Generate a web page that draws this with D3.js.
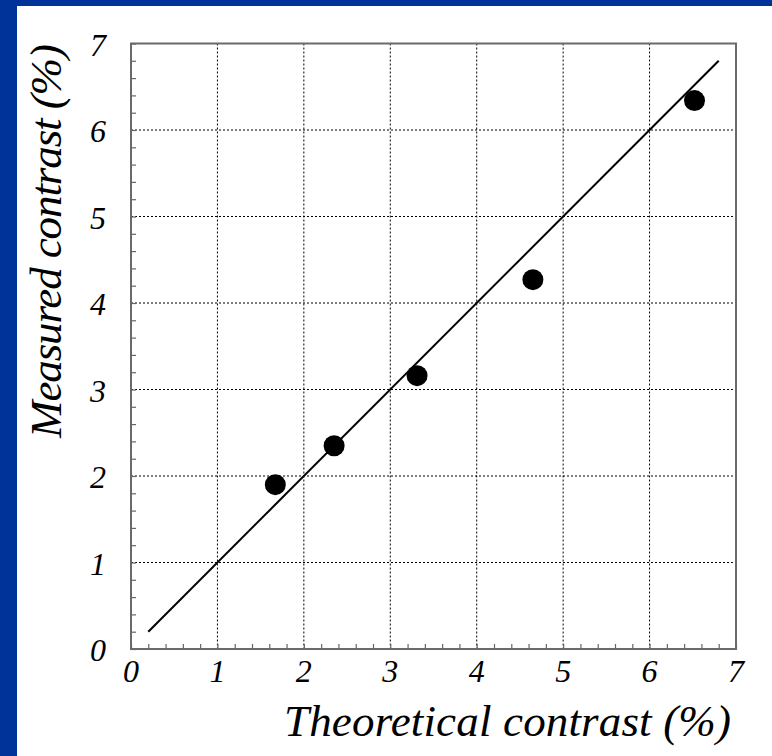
<!DOCTYPE html>
<html>
<head>
<meta charset="utf-8">
<script src="https://cdn.jsdelivr.net/npm/d3@7"></script>
<style>
  html, body { margin: 0; padding: 0; background: #fff; overflow: hidden; }
  svg { display: block; }
  .tick-label { font-family: "Liberation Serif", "Times New Roman", serif; font-style: italic; font-size: 32px; fill: #000; }
  .axis-title { font-family: "Liberation Serif", "Times New Roman", serif; font-style: italic; font-size: 45px; fill: #000; }
</style>
</head>
<body>
<svg id="chart"></svg>
<script>
// DATA
const theoretical = [1.67, 2.35, 3.31, 4.65, 6.52];
const measured = [1.9, 2.35, 3.16, 4.27, 6.34];
const fitLine = [0.2, 6.8];
const majorTicks = [0, 1, 2, 3, 4, 5, 6, 7];
const xTitle = "Theoretical contrast (%)";
const yTitle = "Measured contrast (%)";

// SET VARIABLES
const width = 772, height = 756;
const plot = {left: 131, right: 736, top: 43.5, bottom: 649};

const svg = d3.select('#chart')
              .attr('width', width)
              .attr('height', height)
              .style('background', '#fff');

// blue strips on the left and top
svg.append('rect').attr('x', 0).attr('y', 0).attr('width', 17).attr('height', height).attr('fill', '#003399');
svg.append('rect').attr('x', 0).attr('y', 0).attr('width', width).attr('height', 6).attr('fill', '#003399');

const x = d3.scaleLinear().domain([0, 7]).range([plot.left, plot.right]);
const y = d3.scaleLinear().domain([0, 7]).range([plot.bottom, plot.top]);
const minorTicks = d3.range(0, 7.001, 0.2).map(d => +d.toFixed(1));

// grid
const grid = svg.append('g')
                .attr('stroke', '#000')
                .attr('stroke-width', 1)
                .attr('stroke-dasharray', '2,2');
grid.selectAll('.vgrid')
    .data(majorTicks.slice(1, -1))
    .enter().append('line')
      .attr('x1', d => x(d)).attr('x2', d => x(d))
      .attr('y1', plot.top).attr('y2', plot.bottom);
grid.selectAll('.hgrid')
    .data(majorTicks.slice(1, -1))
    .enter().append('line')
      .attr('y1', d => y(d)).attr('y2', d => y(d))
      .attr('x1', plot.left).attr('x2', plot.right);

// axes with inward ticks
const xAxis = d3.axisBottom(x).tickValues(minorTicks).tickSize(-5).tickFormat('');
const yAxis = d3.axisLeft(y).tickValues(minorTicks).tickSize(-5).tickFormat('');
svg.append('g').attr('transform', `translate(0,${plot.bottom})`).call(xAxis)
   .call(g => g.select('.domain').remove())
   .selectAll('line').attr('stroke', '#666').attr('stroke-width', 1.2);
svg.append('g').attr('transform', `translate(${plot.left},0)`).call(yAxis)
   .call(g => g.select('.domain').remove())
   .selectAll('line').attr('stroke', '#666').attr('stroke-width', 1.2);

// frame
svg.append('rect')
   .attr('x', plot.left).attr('y', plot.top)
   .attr('width', plot.right - plot.left).attr('height', plot.bottom - plot.top)
   .attr('fill', 'none').attr('stroke', '#6a6a6a').attr('stroke-width', 2);

// tick labels
svg.selectAll('.xlab')
   .data(majorTicks)
   .enter().append('text')
     .attr('class', 'tick-label')
     .attr('x', d => x(d))
     .attr('y', 682)
     .attr('text-anchor', 'middle')
     .text(d => d);
svg.selectAll('.ylab')
   .data(majorTicks)
   .enter().append('text')
     .attr('class', 'tick-label')
     .attr('x', 106)
     .attr('y', d => y(d) + 12)
     .attr('text-anchor', 'end')
     .text(d => d);

// fit line
svg.append('line')
   .attr('x1', x(fitLine[0])).attr('y1', y(fitLine[0]))
   .attr('x2', x(fitLine[1])).attr('y2', y(fitLine[1]))
   .attr('stroke', '#000').attr('stroke-width', 2);

// points
svg.selectAll('.pt')
   .data(theoretical.map((t, i) => ({t: t, m: measured[i]})))
   .enter().append('circle')
     .attr('cx', d => x(d.t))
     .attr('cy', d => y(d.m))
     .attr('r', 10.5)
     .attr('fill', '#000');

// axis titles
svg.append('text')
   .attr('class', 'axis-title')
   .attr('x', 731).attr('y', 736)
   .attr('text-anchor', 'end')
   .attr('textLength', 447)
   .text(xTitle);
svg.append('text')
   .attr('class', 'axis-title')
   .attr('transform', 'translate(61,44) rotate(-90)')
   .attr('text-anchor', 'end')
   .attr('textLength', 394)
   .text(yTitle);
</script>
</body>
</html>
